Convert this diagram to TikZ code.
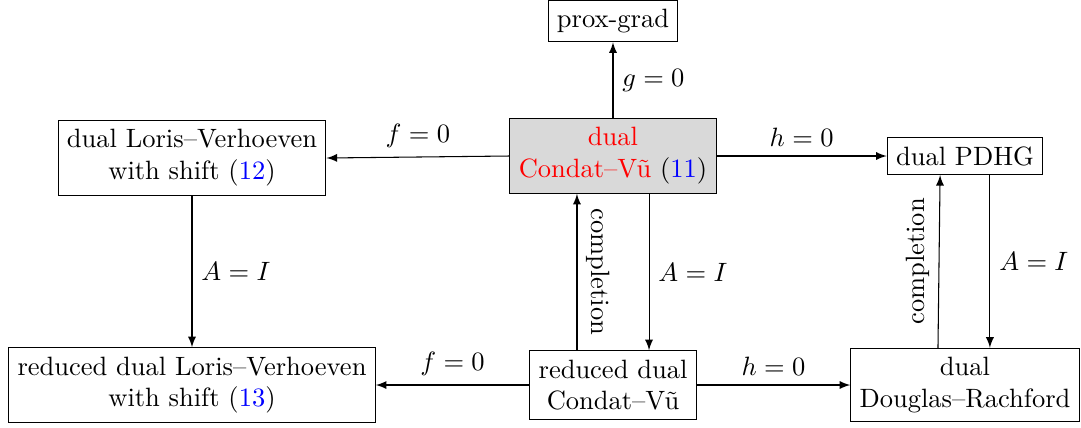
\documentclass[tikz,border=0pt]{standalone}
\usetikzlibrary{arrows}
\definecolor{boxgray}{RGB}{217,217,217}
\begin{document}
\begin{tikzpicture}[x=0.3774pt,y=-0.3774pt,
  box/.style={draw,align=center,inner sep=3.33pt},
  arr/.style={-latex},
  lab/.style={font=\normalsize}]
\useasboundingbox (0,0) rectangle (1081,427);
\node[box] (prox) at (613,21) {prox-grad};
\node[box,fill=boxgray] (cv) at (613,156) {\textcolor{red}{dual}\\\textcolor{red}{Condat--V\~u} (\textcolor{blue}{11})};
\node[box] (lv) at (192,158) {dual Loris--Verhoeven\\with shift (\textcolor{blue}{12})};
\node[box] (pdhg) at (965,156) {dual PDHG};
\node[box] (rlv) at (192,385) {reduced dual Loris--Verhoeven\\with shift (\textcolor{blue}{13})};
\node[box] (rcv) at (613,385) {reduced dual\\Condat--V\~u};
\node[box] (dr) at (965,385) {dual\\Douglas--Rachford};

\draw[arr] (cv.north) -- node[midway,right,lab] {$g=0$} (prox.south);
\draw[arr] (cv.west) -- node[midway,above,lab] {$f=0$} (lv.east);
\draw[arr] (cv.east) -- node[midway,above,lab] {$h=0$} (pdhg.west);
\draw[arr] (lv.south) -- node[midway,right,lab] {$A=I$} (rlv.north);
\draw[arr] ([xshift=13.6pt]cv.south) -- node[midway,right,lab] {$A=I$} ([xshift=13.6pt]rcv.north);
\draw[arr] ([xshift=-13.6pt]rcv.north) -- node[midway,rotate=-90,anchor=south,lab] {completion} ([xshift=-13.6pt]cv.south);
\draw[arr] (rcv.west) -- node[midway,above,lab] {$f=0$} (rlv.east);
\draw[arr] (rcv.east) -- node[midway,above,lab] {$h=0$} (dr.west);
\draw[arr] ([xshift=9.4pt]pdhg.south) -- node[midway,right,lab] {$A=I$} ([xshift=9.4pt]dr.north);
\draw[arr] ([xshift=-10.2pt]dr.north) -- node[midway,rotate=90,anchor=south,lab] {completion} ([xshift=-9.4pt]pdhg.south);
\end{tikzpicture}
\end{document}
